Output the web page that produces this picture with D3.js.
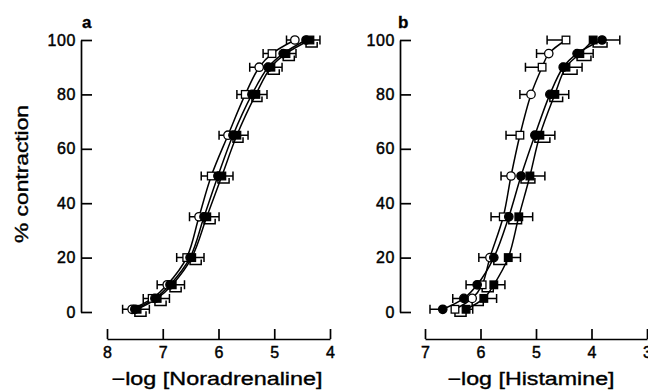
<!DOCTYPE html>
<html><head><meta charset="utf-8">
<script src="https://cdn.jsdelivr.net/npm/d3@7"></script>
<style>body{margin:0;background:#fff}svg{display:block}</style>
</head><body>
<script>
// ---- data ----
const levels = [1, 5, 10, 20, 35, 50, 65, 80, 90, 95, 100];
const yTicks = [0, 20, 40, 60, 80, 100];
const noraTicks = [8, 7, 6, 5, 4];
const histTicks = [7, 6, 5, 4, 3];

// panel a: -log [Noradrenaline] at each % level
const noraOpen         = [7.55, 7.19, 6.92, 6.57, 6.35, 6.13, 5.83, 5.52, 5.27, 5.04, 4.63];
const noraOpenErr      = [0.17, 0.16, 0.18, 0.18, 0.17, 0.18, 0.16, 0.15, 0.17, 0.16, 0.15];
const noraOpenMarker   = ["circle","square","circle","square","circle","square","circle","square","circle","square","circle"];
const noraFilledCircle = [7.50, 7.14, 6.87, 6.51, 6.26, 6.01, 5.74, 5.40, 5.11, 4.84, 4.43];
const noraFilledCircleErr = [0.2, 0.2, 0.2, 0.2, 0.2, 0.2, 0.18, 0.18, 0.2, 0.2, 0.2];
const noraFilledSquare = [7.46, 7.10, 6.83, 6.48, 6.21, 5.94, 5.67, 5.33, 5.06, 4.79, 4.36];
const noraFilledSquareErr = [0.22, 0.22, 0.22, 0.22, 0.22, 0.2, 0.2, 0.2, 0.2, 0.18, 0.18];

// panel b: -log [Histamine] at each % level
const histOpen         = [6.46, 6.15, 5.97, 5.83, 5.59, 5.45, 5.29, 5.09, 4.89, 4.77, 4.46];
const histOpenErr      = [0.2, 0.2, 0.2, 0.2, 0.22, 0.18, 0.25, 0.2, 0.3, 0.22, 0.34];
const histOpenMarker   = ["square","circle","square","circle","square","circle","square","circle","square","circle","square"];
const histFilledCircle = [6.68, 6.30, 6.06, 5.76, 5.49, 5.27, 5.02, 4.75, 4.51, 4.26, 3.81];
const histFilledCircleErr = [0.23, 0.2, 0.2, 0.23, 0.23, 0.25, 0.27, 0.23, 0.25, 0.25, 0.32];
const histFilledSquare = [6.26, 5.94, 5.76, 5.50, 5.31, 5.11, 4.93, 4.66, 4.46, 4.21, 3.97];
const histFilledSquareErr = [0.12, 0.23, 0.2, 0.22, 0.25, 0.27, 0.27, 0.25, 0.29, 0.24, 0.25];

// ---- drawing ----
const W = 648, H = 392;
const FONT = "'Liberation Sans', Arial, Helvetica, sans-serif";
const svg = d3.select("body").append("svg").attr("width", W).attr("height", H)
  .style("font-family", FONT);

const y = d3.scaleLinear().domain([0, 100]).range([312, 40]);

function inkText(sel, w) {
  sel.attr("fill", "#000").attr("stroke", "#000").attr("stroke-width", w).attr("font-family", FONT);
}

function drawPanel(opts) {
  const x = d3.scaleLinear().domain(opts.xDomain).range(opts.xRange);
  const g = svg.append("g");

  // y axis (ticks pointing inward)
  const ya = g.append("g").attr("transform", `translate(${opts.yAxisX},0)`)
    .call(d3.axisLeft(y).tickValues(yTicks).tickSize(-11).tickSizeOuter(0).tickPadding(5));
  ya.selectAll("path,line").attr("stroke", "#000").attr("stroke-width", 1.7);
  ya.selectAll("text").attr("font-size", 16).attr("letter-spacing", 0.6).call(inkText, 0.45);

  // x axis (separate, ticks pointing up)
  const xa = g.append("g").attr("transform", "translate(0,339)")
    .call(d3.axisBottom(x).tickValues(opts.ticks).tickSize(-10).tickSizeOuter(0).tickPadding(8)
      .tickFormat(d3.format("d")));
  xa.selectAll("path,line").attr("stroke", "#000").attr("stroke-width", 1.7);
  xa.selectAll("text").attr("font-size", 16).call(inkText, 0.45);

  // axis title
  g.append("text").attr("x", opts.titleX).attr("y", 385).attr("text-anchor", "middle")
    .attr("font-size", 18).attr("textLength", opts.titleLen).attr("lengthAdjust", "spacingAndGlyphs")
    .call(inkText, 0.35)
    .text(opts.title);

  // panel letter
  g.append("text").attr("x", opts.letterX).attr("y", 28).attr("font-size", 17)
    .attr("font-weight", "bold").call(inkText, 0.3).text(opts.letter);

  const series = opts.series.map(s => ({
    ...s,
    pts: levels.map((v, i) => ({ v, L: s.vals[i], e: s.errs[i], shape: s.shapes ? s.shapes[i] : s.shape }))
  }));

  // curves
  const line = d3.line().x(d => x(d.L)).y(d => y(d.v)).curve(d3.curveCatmullRom.alpha(0.5));
  series.forEach(s => {
    g.append("path").datum(s.pts).attr("d", line).attr("fill", "none")
      .attr("stroke", "#000").attr("stroke-width", 1.5);
  });

  // error bars: outward half for outer series, offset bracket for the middle one
  const eb = g.append("g").attr("stroke", "#000").attr("stroke-width", 1.5).attr("fill", "none");
  levels.forEach((v, i) => {
    const order = series.map((s, k) => k).sort((a, b) => series[b].pts[i].L - series[a].pts[i].L);
    order.forEach((k, rank) => {
      const p = series[k].pts[i];
      const px = x(p.L), py = y(p.v);
      if (rank === 0) {
        const ex = x(p.L + p.e);
        eb.append("path").attr("d", `M${px},${py}H${ex}M${ex},${py - 4.5}V${py + 4.5}`);
      } else if (rank === series.length - 1) {
        const ex = x(p.L - p.e);
        eb.append("path").attr("d", `M${px},${py}H${ex}M${ex},${py - 4.5}V${py + 4.5}`);
      } else {
        const ex = x(p.L - p.e);
        eb.append("path").attr("d", `M${px},${py + 2}V${py + 7}H${ex}V${py + 2}`);
      }
    });
  });

  // markers
  series.forEach(s => {
    s.pts.forEach(p => {
      const px = x(p.L), py = y(p.v);
      const fill = s.filled ? "#000" : "#fff";
      if (p.shape === "circle") {
        g.append("circle").attr("cx", px).attr("cy", py).attr("r", 4.2)
          .attr("fill", fill).attr("stroke", "#000").attr("stroke-width", 1.3);
      } else {
        g.append("rect").attr("x", px - 3.8).attr("y", py - 3.8).attr("width", 7.6).attr("height", 7.6)
          .attr("fill", fill).attr("stroke", "#000").attr("stroke-width", 1.3);
      }
    });
  });
}

drawPanel({
  xDomain: [8, 4], xRange: [107, 330], ticks: noraTicks, yAxisX: 81,
  title: "\u2212log [Noradrenaline]", titleX: 217, titleLen: 211,
  letter: "a", letterX: 82,
  series: [
    { vals: noraOpen, errs: noraOpenErr, shapes: noraOpenMarker, filled: false },
    { vals: noraFilledCircle, errs: noraFilledCircleErr, shape: "circle", filled: true },
    { vals: noraFilledSquare, errs: noraFilledSquareErr, shape: "square", filled: true }
  ]
});

drawPanel({
  xDomain: [7, 3], xRange: [425, 647], ticks: histTicks, yAxisX: 400,
  title: "\u2212log [Histamine]", titleX: 531, titleLen: 167,
  letter: "b", letterX: 398,
  series: [
    { vals: histOpen, errs: histOpenErr, shapes: histOpenMarker, filled: false },
    { vals: histFilledCircle, errs: histFilledCircleErr, shape: "circle", filled: true },
    { vals: histFilledSquare, errs: histFilledSquareErr, shape: "square", filled: true }
  ]
});

// shared y title
svg.append("text").attr("transform", "translate(28,174) rotate(-90)")
  .attr("text-anchor", "middle").attr("font-size", 18)
  .attr("textLength", 138).attr("lengthAdjust", "spacingAndGlyphs")
  .call(inkText, 0.35)
  .text("% contraction");
</script>
</body></html>
